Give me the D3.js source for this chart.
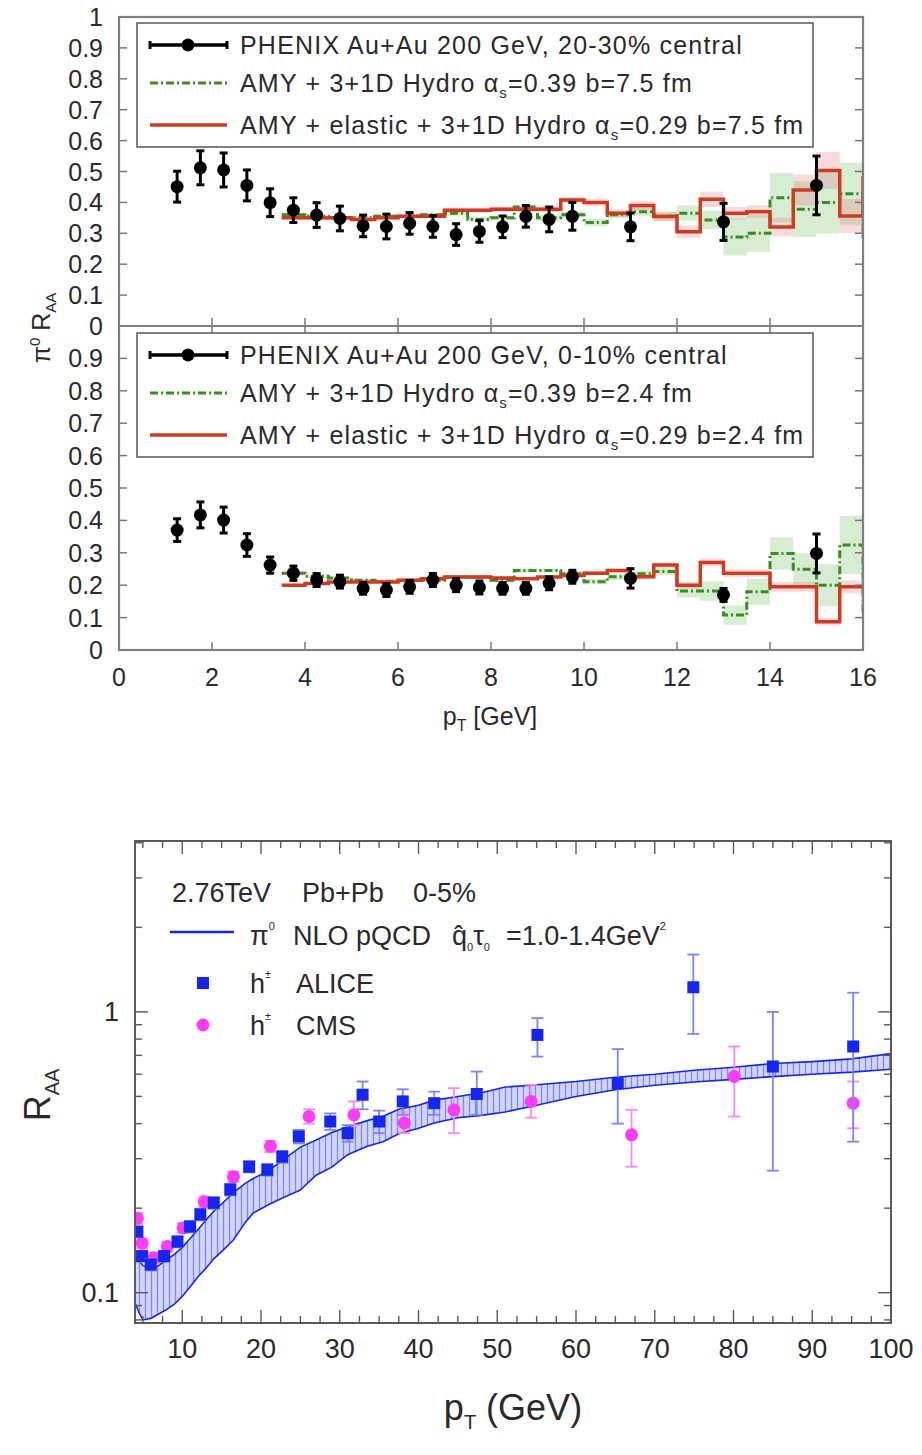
<!DOCTYPE html>
<html>
<head>
<meta charset="utf-8">
<script src="https://cdn.jsdelivr.net/npm/d3@7"></script>
<style>
  body { margin: 0; background: #fff; }
  svg { display: block; }
  text { font-family: "Liberation Sans", Arial, Helvetica, sans-serif; fill: #2a2a2a; }
</style>
</head>
<body>
<svg id="fig" width="922" height="1455"></svg>
<script>
// ---------- Upper figure: PHENIX pi0 R_AA, two centrality classes ----------
const phenixPt = [1.25,1.75,2.25,2.75,3.25,3.75,4.25,4.75,5.25,5.75,6.25,6.75,7.25,7.75,8.25,8.75,9.25,9.75,11,13,15];

const phenix2030    = [0.451,0.512,0.505,0.455,0.399,0.375,0.359,0.348,0.324,0.322,0.332,0.322,0.296,0.306,0.321,0.355,0.345,0.355,0.321,0.337,0.455];
const phenix2030Err = [0.05,0.055,0.055,0.05,0.045,0.04,0.04,0.04,0.035,0.04,0.035,0.035,0.035,0.035,0.035,0.035,0.04,0.045,0.045,0.06,0.095];

const phenix010    = [0.370,0.417,0.401,0.324,0.262,0.237,0.216,0.211,0.190,0.185,0.195,0.216,0.200,0.193,0.190,0.190,0.206,0.226,0.221,0.170,0.298];
const phenix010Err = [0.035,0.04,0.04,0.035,0.025,0.022,0.02,0.02,0.018,0.02,0.02,0.02,0.02,0.02,0.018,0.018,0.02,0.02,0.03,0.02,0.06];

// histogram bin edges of the model curves (GeV)
const binEdges = [3.5,4,4.5,5,5.5,6,6.5,7,7.5,8,8.5,9,9.5,10,10.5,11,11.5,12,12.5,13,13.5,14,14.5,15,15.5,16,16.5];

// 20-30% : AMY + 3+1D hydro (alpha_s = 0.39) and AMY + elastic (alpha_s = 0.29)
const amy2030     = [0.36,0.355,0.35,0.35,0.355,0.355,0.36,0.365,0.345,0.35,0.385,0.35,0.36,0.335,0.36,0.37,0.355,0.365,0.343,0.288,0.30,0.415,0.378,0.40,0.428,0.29];
const amy2030Err  = [0.006,0.006,0.006,0.006,0.006,0.006,0.006,0.008,0.008,0.008,0.008,0.01,0.01,0.012,0.012,0.015,0.015,0.025,0.03,0.06,0.06,0.08,0.09,0.1,0.1,0.1];
const el2030      = [0.35,0.35,0.35,0.345,0.35,0.355,0.355,0.375,0.375,0.378,0.378,0.378,0.408,0.40,0.365,0.39,0.354,0.305,0.41,0.365,0.37,0.32,0.44,0.503,0.356,0.48];
const el2030Err   = [0.006,0.006,0.006,0.006,0.006,0.006,0.006,0.008,0.008,0.008,0.008,0.01,0.01,0.012,0.012,0.015,0.015,0.02,0.025,0.02,0.02,0.03,0.05,0.06,0.055,0.06];

// 0-10%
const amy010      = [0.237,0.228,0.222,0.215,0.212,0.215,0.215,0.225,0.225,0.215,0.245,0.245,0.235,0.211,0.226,0.235,0.242,0.182,0.182,0.108,0.18,0.298,0.249,0.20,0.324,0.113];
const amy010Err   = [0.005,0.005,0.005,0.005,0.005,0.005,0.005,0.006,0.006,0.006,0.006,0.006,0.008,0.008,0.01,0.01,0.012,0.02,0.03,0.03,0.04,0.05,0.05,0.065,0.09,0.09];
const el010       = [0.20,0.205,0.21,0.21,0.21,0.215,0.22,0.225,0.225,0.222,0.22,0.225,0.23,0.237,0.245,0.226,0.262,0.20,0.27,0.237,0.237,0.195,0.195,0.087,0.195,0.195];
const el010Err    = [0.004,0.004,0.004,0.004,0.004,0.004,0.004,0.005,0.005,0.005,0.005,0.005,0.006,0.006,0.006,0.008,0.008,0.01,0.012,0.012,0.012,0.015,0.015,0.012,0.02,0.02];

const topYTicks = [0,0.1,0.2,0.3,0.4,0.5,0.6,0.7,0.8,0.9,1];
const topXTicks = [0,2,4,6,8,10,12,14,16];

// ---------- Lower figure: LHC charged-hadron R_AA ----------
const bandPt    = [4,4.5,5,6,7,8,9,10,11,12,13,14,15,16.5,18,19,21,23,25,27,29,31,33.5,35.5,37.5,40,42,45,48,51,55,60,65,70,75,80,85,90,95,100];
const bandUpper = [0.135,0.13,0.125,0.121,0.125,0.131,0.137,0.145,0.156,0.168,0.181,0.195,0.207,0.227,0.245,0.255,0.272,0.30,0.33,0.35,0.372,0.39,0.41,0.425,0.45,0.465,0.485,0.50,0.515,0.54,0.55,0.565,0.585,0.60,0.62,0.635,0.655,0.665,0.68,0.71];
const bandLower = [0.092,0.085,0.08,0.081,0.084,0.087,0.091,0.097,0.105,0.114,0.122,0.132,0.14,0.154,0.178,0.192,0.206,0.219,0.232,0.262,0.28,0.31,0.332,0.345,0.368,0.385,0.402,0.42,0.428,0.44,0.465,0.50,0.528,0.548,0.563,0.575,0.588,0.60,0.61,0.625];

const alicePt = [4.3,4.9,6.0,7.7,9.4,11.0,12.3,14.0,16.1,18.5,20.8,22.7,24.8,28.8,31.0,32.9,35.0,38.0,42.0,47.4,55.1,65.3,74.9,85.0,95.2];
const aliceR  = [0.165,0.135,0.126,0.135,0.152,0.172,0.19,0.209,0.233,0.281,0.274,0.305,0.36,0.407,0.37,0.507,0.407,0.48,0.473,0.51,0.828,0.557,1.224,0.639,0.753];
const aliceLo = [0.158,0.129,0.12,0.129,0.145,0.164,0.181,0.199,0.222,0.268,0.261,0.29,0.34,0.38,0.345,0.45,0.37,0.43,0.43,0.43,0.693,0.40,0.835,0.272,0.345];
const aliceHi = [0.172,0.141,0.132,0.141,0.159,0.18,0.199,0.219,0.244,0.294,0.287,0.32,0.38,0.435,0.395,0.565,0.445,0.53,0.52,0.613,0.95,0.737,1.6,1.0,1.17];

const cmsPt = [4.3,4.9,6.4,8.1,10.1,12.8,16.5,21.2,26.1,31.8,38.2,44.5,54.3,67.05,80.1,95.2];
const cmsR  = [0.184,0.15,0.133,0.146,0.17,0.211,0.259,0.332,0.424,0.43,0.402,0.448,0.48,0.365,0.589,0.473];
const cmsLo = [0.176,0.144,0.127,0.14,0.163,0.202,0.248,0.317,0.40,0.395,0.37,0.37,0.42,0.281,0.424,0.385];
const cmsHi = [0.192,0.156,0.139,0.152,0.177,0.22,0.27,0.347,0.45,0.48,0.44,0.535,0.55,0.448,0.753,0.565];

const lowXTicks = [10,20,30,40,50,60,70,80,90,100];
const lowYLabels = [0.1, 1];

// ---------------------------------------------------------------------------
const svg = d3.select("#fig");
const defs = svg.append("defs");

// ====================== upper figure ======================
const X0 = 119, X1 = 863;
const x = d3.scaleLinear([0, 16], [X0, X1]);
const panels = [
  { y: d3.scaleLinear([0, 1], [326, 17]), pts: phenix2030, err: phenix2030Err,
    amy: amy2030, amyErr: amy2030Err, el: el2030, elErr: el2030Err, topTicks: false,
    cent: "20-30% central", b: "7.5", legTop: 23, labels: topYTicks, id: "p1" },
  { y: d3.scaleLinear([0, 1], [650, 326]), pts: phenix010, err: phenix010Err,
    amy: amy010, amyErr: amy010Err, el: el010, elErr: el010Err, topTicks: true,
    cent: "0-10% central", b: "2.4", legTop: 333, labels: topYTicks.slice(0, 10), id: "p2" }
];

const GREEN = "#3c8c22", RED = "#cf3b22";
const bins = d3.range(binEdges.length - 1);
const stepLine = (ys, vals) => d3.line()
  .curve(d3.curveStepAfter)
  .x(d => x(d[0])).y(d => ys(d[1]))(
    bins.map(i => [binEdges[i], vals[i]]).concat([[binEdges[binEdges.length - 1], vals[vals.length - 1]]])
  );

panels.forEach(p => {
  const y = p.y;
  defs.append("clipPath").attr("id", "clip-" + p.id)
    .append("rect").attr("x", X0).attr("y", y(1)).attr("width", X1 - X0).attr("height", y(0) - y(1));
  const g = svg.append("g");
  const plot = g.append("g").attr("clip-path", `url(#clip-${p.id})`);

  // model uncertainty bands
  plot.selectAll(".gband").data(bins).join("rect")
    .attr("x", i => x(binEdges[i])).attr("width", i => x(binEdges[i + 1]) - x(binEdges[i]))
    .attr("y", i => y(p.amy[i] + p.amyErr[i])).attr("height", i => y(p.amy[i] - p.amyErr[i]) - y(p.amy[i] + p.amyErr[i]))
    .attr("fill", "rgba(110,190,95,0.28)");
  plot.selectAll(".rband").data(bins).join("rect")
    .attr("x", i => x(binEdges[i])).attr("width", i => x(binEdges[i + 1]) - x(binEdges[i]))
    .attr("y", i => y(p.el[i] + p.elErr[i])).attr("height", i => y(p.el[i] - p.elErr[i]) - y(p.el[i] + p.elErr[i]))
    .attr("fill", "rgba(225,110,110,0.25)");

  // histogram curves
  plot.append("path").attr("d", stepLine(y, p.amy)).attr("fill", "none")
    .attr("stroke", GREEN).attr("stroke-width", 3).attr("stroke-dasharray", "8,3,2,3");
  plot.append("path").attr("d", stepLine(y, p.el)).attr("fill", "none")
    .attr("stroke", RED).attr("stroke-width", 3.5);

  // data points with error bars
  const pg = plot.append("g");
  phenixPt.forEach((pt, i) => {
    const cx = x(pt), lo = y(p.pts[i] - p.err[i]), hi = y(p.pts[i] + p.err[i]);
    pg.append("line").attr("x1", cx).attr("x2", cx).attr("y1", lo).attr("y2", hi).attr("stroke", "#000").attr("stroke-width", 3);
    [lo, hi].forEach(v => pg.append("line").attr("x1", cx - 4).attr("x2", cx + 4).attr("y1", v).attr("y2", v).attr("stroke", "#000").attr("stroke-width", 3));
    pg.append("circle").attr("cx", cx).attr("cy", y(p.pts[i])).attr("r", 6.5).attr("fill", "#000");
  });

  // ticks (inward)
  const tk = g.append("g").attr("stroke", "#777").attr("stroke-width", 1.5);
  topYTicks.slice(1, -1).forEach(v => {
    tk.append("line").attr("x1", X0).attr("x2", X0 + 8).attr("y1", y(v)).attr("y2", y(v));
    tk.append("line").attr("x1", X1).attr("x2", X1 - 8).attr("y1", y(v)).attr("y2", y(v));
  });
  topXTicks.slice(1, -1).forEach(v => {
    tk.append("line").attr("x1", x(v)).attr("x2", x(v)).attr("y1", y(0)).attr("y2", y(0) - 8);
    if (p.topTicks) tk.append("line").attr("x1", x(v)).attr("x2", x(v)).attr("y1", y(1)).attr("y2", y(1) + 8);
  });

  // y tick labels
  g.selectAll(".yl").data(p.labels).join("text")
    .attr("x", 103).attr("y", v => y(v) + 9).attr("text-anchor", "end")
    .attr("font-size", 25).text(v => d3.format("~g")(v));

  // legend
  const L = g.append("g").attr("transform", `translate(137,${p.legTop})`);
  L.append("rect").attr("width", 676).attr("height", 124).attr("fill", "#fff")
    .attr("stroke", "#555").attr("stroke-width", 1.5);
  const rows = [22, 60, 102];
  L.append("line").attr("x1", 13).attr("x2", 90).attr("y1", rows[0]).attr("y2", rows[0]).attr("stroke", "#000").attr("stroke-width", 3.5);
  [13, 90].forEach(v => L.append("line").attr("x1", v).attr("x2", v).attr("y1", rows[0] - 4).attr("y2", rows[0] + 4).attr("stroke", "#000").attr("stroke-width", 3));
  L.append("circle").attr("cx", 51).attr("cy", rows[0]).attr("r", 6.5).attr("fill", "#000");
  L.append("line").attr("x1", 13).attr("x2", 90).attr("y1", rows[1]).attr("y2", rows[1]).attr("stroke", GREEN).attr("stroke-width", 3).attr("stroke-dasharray", "8,3,2,3");
  L.append("line").attr("x1", 13).attr("x2", 90).attr("y1", rows[2]).attr("y2", rows[2]).attr("stroke", RED).attr("stroke-width", 3.5);

  const fs = 25, ls = 1.2;
  L.append("text").attr("x", 103).attr("y", rows[0] + 9).attr("font-size", fs).attr("letter-spacing", ls)
    .text("PHENIX Au+Au 200 GeV, " + p.cent);
  const t2 = L.append("text").attr("x", 103).attr("y", rows[1] + 9).attr("font-size", fs).attr("letter-spacing", ls);
  t2.append("tspan").text("AMY + 3+1D Hydro α");
  t2.append("tspan").attr("font-size", 15).attr("dy", 6).text("s");
  t2.append("tspan").attr("dy", -6).text("=0.39 b=" + p.b + " fm");
  const t3 = L.append("text").attr("x", 103).attr("y", rows[2] + 9).attr("font-size", fs).attr("letter-spacing", ls);
  t3.append("tspan").text("AMY + elastic + 3+1D Hydro α");
  t3.append("tspan").attr("font-size", 15).attr("dy", 6).text("s");
  t3.append("tspan").attr("dy", -6).text("=0.29 b=" + p.b + " fm");
});

// frame of the two stacked panels
svg.append("rect").attr("x", X0).attr("y", 17).attr("width", X1 - X0).attr("height", 650 - 17)
  .attr("fill", "none").attr("stroke", "#808080").attr("stroke-width", 2.2);
svg.append("line").attr("x1", X0).attr("x2", X1).attr("y1", 326).attr("y2", 326)
  .attr("stroke", "#808080").attr("stroke-width", 2.2);

// x tick labels and axis titles
svg.selectAll(".xl").data(topXTicks).join("text")
  .attr("x", v => x(v)).attr("y", 686).attr("text-anchor", "middle").attr("font-size", 25)
  .text(d => d);
const xt = svg.append("text").attr("x", 490).attr("y", 725).attr("text-anchor", "middle").attr("font-size", 25);
xt.append("tspan").text("p");
xt.append("tspan").attr("font-size", 16).attr("dy", 6).text("T");
xt.append("tspan").attr("dy", -6).text(" [GeV]");
const yt = svg.append("text").attr("transform", "translate(50,328) rotate(-90)").attr("text-anchor", "middle").attr("font-size", 25);
yt.append("tspan").text("π");
yt.append("tspan").attr("font-size", 15).attr("dy", -10).text("0");
yt.append("tspan").attr("dy", 10).text(" R");
yt.append("tspan").attr("font-size", 15).attr("dy", 6).text("AA");

// ====================== lower figure ======================
const BL = 135, BR = 891, BT = 841, BB = 1323;
const xb = d3.scaleLinear([4, 100], [BL, BR]);
const yb = d3.scaleLog([0.078, 4.06], [BB, BT]);
const BLUE = "#1626f2", MAG = "#ff3cf5";

defs.append("clipPath").attr("id", "clip-low")
  .append("rect").attr("x", BL).attr("y", BT).attr("width", BR - BL).attr("height", BB - BT);
const hatch = defs.append("pattern").attr("id", "hatch").attr("patternUnits", "userSpaceOnUse")
  .attr("width", 6).attr("height", 10);
hatch.append("rect").attr("width", 6).attr("height", 10).attr("fill", "#d2d6fb");
hatch.append("line").attr("x1", 1.5).attr("x2", 1.5).attr("y1", 0).attr("y2", 10)
  .attr("stroke", "#7d88f4").attr("stroke-width", 1.3);

const low = svg.append("g").attr("clip-path", "url(#clip-low)");
const bandIdx = d3.range(bandPt.length);
low.append("path")
  .attr("d", d3.area().x(i => xb(bandPt[i])).y0(i => yb(bandLower[i])).y1(i => yb(bandUpper[i]))(bandIdx))
  .attr("fill", "url(#hatch)");
[bandUpper, bandLower].forEach(arr => low.append("path")
  .attr("d", d3.line().x(i => xb(bandPt[i])).y(i => yb(arr[i]))(bandIdx))
  .attr("fill", "none").attr("stroke", BLUE).attr("stroke-width", 1.6));

// CMS
cmsPt.forEach((pt, i) => {
  const cx = xb(pt);
  low.append("line").attr("x1", cx).attr("x2", cx).attr("y1", yb(cmsLo[i])).attr("y2", yb(cmsHi[i]))
    .attr("stroke", "#ff86fa").attr("stroke-width", 1.8);
  [cmsLo[i], cmsHi[i]].forEach(v => low.append("line").attr("x1", cx - 6).attr("x2", cx + 6)
    .attr("y1", yb(v)).attr("y2", yb(v)).attr("stroke", "#ff86fa").attr("stroke-width", 1.8));
  low.append("circle").attr("cx", cx).attr("cy", yb(cmsR[i])).attr("r", 6.5).attr("fill", MAG);
});
// ALICE
alicePt.forEach((pt, i) => {
  const cx = xb(pt);
  low.append("line").attr("x1", cx).attr("x2", cx).attr("y1", yb(aliceLo[i])).attr("y2", yb(aliceHi[i]))
    .attr("stroke", "#7a86fb").attr("stroke-width", 1.8);
  [aliceLo[i], aliceHi[i]].forEach(v => low.append("line").attr("x1", cx - 6).attr("x2", cx + 6)
    .attr("y1", yb(v)).attr("y2", yb(v)).attr("stroke", "#7a86fb").attr("stroke-width", 1.8));
  low.append("rect").attr("x", cx - 6).attr("y", yb(aliceR[i]) - 6).attr("width", 12).attr("height", 12).attr("fill", BLUE);
});

// frame and ticks
svg.append("rect").attr("x", BL).attr("y", BT).attr("width", BR - BL).attr("height", BB - BT)
  .attr("fill", "none").attr("stroke", "#5a5a5a").attr("stroke-width", 2);
const btk = svg.append("g").attr("stroke", "#5a5a5a").attr("stroke-width", 1.4);
d3.range(5, 100, 2.5).forEach(v => {
  const major = v % 10 === 0, len = major ? 13 : 7;
  btk.append("line").attr("x1", xb(v)).attr("x2", xb(v)).attr("y1", BB).attr("y2", BB - len);
  btk.append("line").attr("x1", xb(v)).attr("x2", xb(v)).attr("y1", BT).attr("y2", BT + len);
});
yb.ticks().filter(v => v > 0.078 && v < 4.06).forEach(v => {
  const major = Math.abs(Math.log10(v) - Math.round(Math.log10(v))) < 1e-9, len = major ? 13 : 7;
  btk.append("line").attr("x1", BL).attr("x2", BL + len).attr("y1", yb(v)).attr("y2", yb(v));
  btk.append("line").attr("x1", BR).attr("x2", BR - len).attr("y1", yb(v)).attr("y2", yb(v));
});

svg.selectAll(".bxl").data(lowXTicks).join("text")
  .attr("x", v => xb(v)).attr("y", 1358).attr("text-anchor", "middle").attr("font-size", 27).text(d => d);
svg.selectAll(".byl").data(lowYLabels).join("text")
  .attr("x", 119).attr("y", v => yb(v) + 9).attr("text-anchor", "end").attr("font-size", 27).text(d => d);

const bxt = svg.append("text").attr("x", 513).attr("y", 1420).attr("text-anchor", "middle").attr("font-size", 36);
bxt.append("tspan").text("p");
bxt.append("tspan").attr("font-size", 20).attr("dy", 9).text("T");
bxt.append("tspan").attr("dy", -9).text(" (GeV)");
const byt = svg.append("text").attr("transform", "translate(50,1095) rotate(-90)").attr("text-anchor", "middle").attr("font-size", 36);
byt.append("tspan").text("R");
byt.append("tspan").attr("font-size", 20).attr("dy", 9).text("AA");

// legend
const lg = svg.append("g");
const LF = 27;
lg.append("text").attr("x", 172).attr("y", 902).attr("font-size", LF).text("2.76TeV");
lg.append("text").attr("x", 302).attr("y", 902).attr("font-size", LF).text("Pb+Pb");
lg.append("text").attr("x", 413).attr("y", 902).attr("font-size", LF).text("0-5%");

lg.append("line").attr("x1", 170).attr("x2", 234).attr("y1", 932).attr("y2", 932).attr("stroke", BLUE).attr("stroke-width", 2.5);
const r2 = lg.append("text").attr("y", 945).attr("font-size", LF);
r2.append("tspan").attr("x", 250).text("π");
r2.append("tspan").attr("font-size", 11).attr("dy", -15).text("0");
r2.append("tspan").attr("x", 293).attr("dy", 15).text("NLO pQCD");
r2.append("tspan").attr("x", 452).text("q\u0302");
r2.append("tspan").attr("font-size", 11).attr("dy", 6).text("0");
r2.append("tspan").attr("font-size", LF).attr("dy", -6).text("τ");
r2.append("tspan").attr("font-size", 11).attr("dy", 6).text("0");
r2.append("tspan").attr("x", 506).attr("dy", -6).text("=1.0-1.4GeV");
r2.append("tspan").attr("font-size", 11).attr("dy", -15).text("2");

lg.append("rect").attr("x", 197).attr("y", 977).attr("width", 12).attr("height", 12).attr("fill", BLUE);
const r3 = lg.append("text").attr("y", 993).attr("font-size", LF);
r3.append("tspan").attr("x", 250).text("h");
r3.append("tspan").attr("font-size", 11).attr("dy", -15).text("±");
r3.append("tspan").attr("x", 296).attr("dy", 15).text("ALICE");

lg.append("circle").attr("cx", 203).attr("cy", 1025).attr("r", 6.5).attr("fill", MAG);
const r4 = lg.append("text").attr("y", 1035).attr("font-size", LF);
r4.append("tspan").attr("x", 250).text("h");
r4.append("tspan").attr("font-size", 11).attr("dy", -15).text("±");
r4.append("tspan").attr("x", 296).attr("dy", 15).text("CMS");
</script>
</body>
</html>
